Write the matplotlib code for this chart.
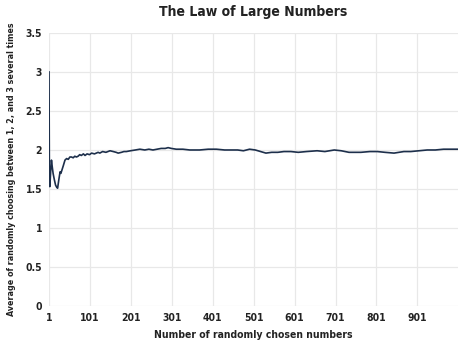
import matplotlib
matplotlib.use("Agg")
import matplotlib.pyplot as plt
from matplotlib.ticker import FuncFormatter

# running average (n, average)
n_vals = [1, 2, 3, 5, 7, 9, 11, 14, 17, 20, 22, 25, 28, 30, 33, 36, 40, 44,
          48, 52, 56, 60, 64, 68, 72, 76, 80, 85, 89, 94, 100, 105, 112, 121,
          125, 132, 140, 150, 158, 165, 170, 178, 184, 190, 200, 212, 223,
          235, 245, 255, 265, 275, 285, 292, 300, 312, 328, 345, 369, 390,
          410, 430, 446, 462, 476, 491, 505, 518, 531, 545, 560, 575, 592,
          610, 630, 656, 675, 698, 715, 734, 750, 763, 785, 803, 822, 844,
          856, 868, 885, 905, 925, 945, 965, 990, 1000]
avg_vals = [3.0, 1.55, 1.53, 1.72, 1.87, 1.78, 1.70, 1.62, 1.55, 1.52, 1.51,
            1.62, 1.72, 1.70, 1.75, 1.80, 1.87, 1.89, 1.88, 1.91, 1.91, 1.90,
            1.92, 1.91, 1.92, 1.94, 1.93, 1.95, 1.93, 1.95, 1.94, 1.96, 1.95,
            1.97, 1.96, 1.98, 1.97, 1.99, 1.98, 1.97, 1.96, 1.97, 1.98, 1.98,
            1.99, 2.00, 2.01, 2.00, 2.01, 2.00, 2.01, 2.02, 2.02, 2.03, 2.02,
            2.01, 2.01, 2.00, 2.00, 2.01, 2.01, 2.00, 2.00, 2.00, 1.99, 2.01,
            2.00, 1.98, 1.96, 1.97, 1.97, 1.98, 1.98, 1.97, 1.98, 1.99, 1.98,
            2.00, 1.99, 1.97, 1.97, 1.97, 1.98, 1.98, 1.97, 1.96, 1.97, 1.98,
            1.98, 1.99, 2.00, 2.00, 2.01, 2.01, 2.01]

x_ticks = [1, 101, 201, 301, 401, 501, 601, 701, 801, 901]
y_ticks = [0, 0.5, 1, 1.5, 2, 2.5, 3, 3.5]

plt.rcParams["font.family"] = ["DejaVu Sans"]
plt.rcParams["font.stretch"] = "condensed"
plt.rcParams["font.weight"] = "bold"

fig = plt.figure(figsize=(4.74, 3.52), dpi=100)
ax = fig.add_axes([0.1034, 0.1307, 0.8626, 0.7756])

ax.plot(n_vals, avg_vals, color="#1d2f4b", linewidth=1.2, zorder=3)

ax.set_xlim(1, 1000)
ax.set_ylim(0, 3.5)
ax.set_xticks(x_ticks)
ax.set_yticks(y_ticks)
ax.yaxis.set_major_formatter(FuncFormatter(lambda v, _: f"{v:g}"))
ax.grid(True, color="#e8e8e8", linewidth=0.9)
ax.set_axisbelow(True)
for s in ax.spines.values():
    s.set_visible(False)
ax.tick_params(length=0, labelsize=7.5, colors="#222222", pad=5)

ax.set_title("The Law of Large Numbers", fontsize=10, fontweight="bold",
             color="#222222", pad=12)
ax.set_xlabel("Number of randomly chosen numbers", fontsize=7.5,
              fontweight="bold", color="#222222", labelpad=5)
ax.set_ylabel("Average of randomly choosing between 1, 2, and 3 several times",
              fontsize=6.4, fontweight="bold", color="#222222", labelpad=7)

fig.savefig("out.png", dpi=100)
